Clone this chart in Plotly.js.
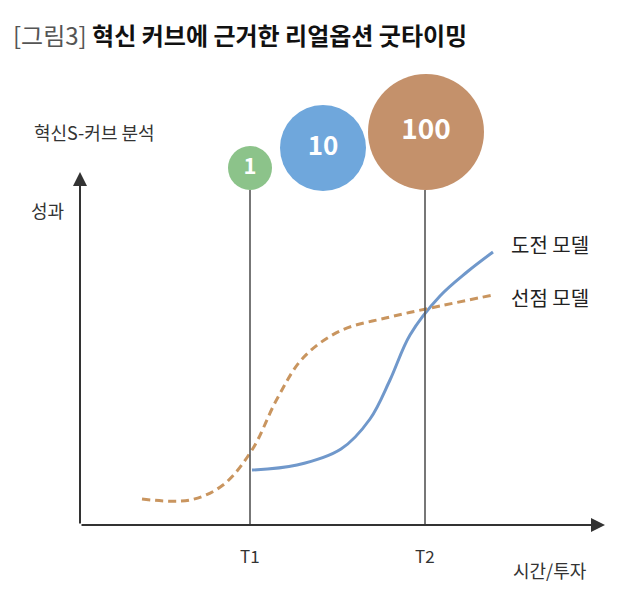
<!DOCTYPE html>
<html>
<head>
<meta charset="utf-8">
<script src="https://cdn.plot.ly/plotly-3.0.1.min.js"></script>
<style>html,body{margin:0;padding:0;background:#fff;}#chart{width:640px;height:592px;}</style>
</head>
<body>
<div id="chart"></div>
<script>
// Data (x = time/investment, y = performance; origin at axis corner)
const challengeX = [172, 217, 261, 290, 310, 330, 360, 387, 413];
const challengeY = [55, 60, 76, 106, 145, 190, 229, 253, 273];
const preemptX = [62, 110, 143, 172, 197, 223, 260, 310, 360, 413];
const preemptY = [26, 25, 40, 75, 126, 167, 194, 208, 219, 230];
const timingX = [170, 345];            // T1, T2
const timingLabels = ['T1', 'T2'];
const bubbleX = [170, 243, 346];
const bubbleY = [357, 377, 393];
const bubbleLabels = ['1', '10', '100'];
const seriesNames = ['도전 모델', '선점 모델'];

const font = '"Noto Sans CJK KR", "Noto Sans", sans-serif';
const lineTop = 335;

const traces = [
  {x: challengeX, y: challengeY, mode: 'lines', line: {color: '#7098cb', width: 3, shape: 'spline', smoothing: 1}, hoverinfo: 'skip'},
  {x: preemptX, y: preemptY, mode: 'lines', line: {color: '#c9955f', width: 3, shape: 'spline', smoothing: 1, dash: '8px,5px'}, hoverinfo: 'skip'},
  {x: bubbleX, y: bubbleY, mode: 'markers+text', text: bubbleLabels, textposition: 'middle center',
   textfont: {family: font, color: '#ffffff', size: [22, 26, 28], weight: 'bold'},
   marker: {size: [44, 86, 116], color: ['#8cc38a', '#6fa7dc', '#c4916b'], line: {width: 0}, opacity: 1},
   hoverinfo: 'skip', cliponaxis: false}
];

const shapes = timingX.map(x => ({type: 'line', xref: 'x', yref: 'y', x0: x, x1: x, y0: 0, y1: lineTop,
  line: {color: '#555555', width: 1.6}}));

const annotations = [
  // axes with arrows
  {x: 0, y: 353, ax: 0, ay: 0, axref: 'x', ayref: 'y', xref: 'x', yref: 'y', showarrow: true,
   arrowhead: 2, arrowsize: 1.4, arrowwidth: 2, arrowcolor: '#333333', text: ''},
  {x: 525, y: 0, ax: 0, ay: 0, axref: 'x', ayref: 'y', xref: 'x', yref: 'y', showarrow: true,
   arrowhead: 2, arrowsize: 1.4, arrowwidth: 2, arrowcolor: '#333333', text: ''},
  // title
  {xref: 'paper', yref: 'paper', x: 11/640, y: 1 - 34/592, xanchor: 'left', yanchor: 'middle', showarrow: false,
   text: '<span style="color:#555">[그림3]</span> <b>혁신 커브에 근거한 리얼옵션 굿타이밍</b>',
   font: {family: font, size: 24, color: '#111111'}},
  {xref: 'paper', yref: 'paper', x: 32/640, y: 1 - 132/592, xanchor: 'left', yanchor: 'middle', showarrow: false,
   text: '혁신S-커브 분석', font: {family: font, size: 18, color: '#333333'}},
  {xref: 'paper', yref: 'paper', x: 29/640, y: 1 - 210/592, xanchor: 'left', yanchor: 'middle', showarrow: false,
   text: '성과', font: {family: font, size: 18, color: '#333333'}},
  {xref: 'x', yref: 'y', x: 429, y: 525 - 244, xanchor: 'left', yanchor: 'middle', showarrow: false,
   text: seriesNames[0], font: {family: font, size: 20, color: '#222222'}},
  {xref: 'x', yref: 'y', x: 429, y: 525 - 297, xanchor: 'left', yanchor: 'middle', showarrow: false,
   text: seriesNames[1], font: {family: font, size: 20, color: '#222222'}},
  ...timingX.map((x, i) => ({xref: 'x', yref: 'y', x: x, y: -30, xanchor: 'center', yanchor: 'middle', showarrow: false,
   text: timingLabels[i], font: {family: font, size: 17, color: '#333333'}})),
  {xref: 'paper', yref: 'paper', x: 550/640, y: 1 - 570/592, xanchor: 'center', yanchor: 'middle', showarrow: false,
   text: '시간/투자', font: {family: font, size: 18, color: '#333333'}}
];

const layout = {
  width: 640, height: 592,
  margin: {l: 0, r: 0, t: 0, b: 0},
  paper_bgcolor: '#ffffff', plot_bgcolor: '#ffffff',
  showlegend: false,
  xaxis: {range: [-80, 560], visible: false, fixedrange: true},
  yaxis: {range: [-67, 525], visible: false, fixedrange: true},
  shapes: shapes,
  annotations: annotations
};

Plotly.newPlot('chart', traces, layout, {staticPlot: true, displayModeBar: false});
</script>
</body>
</html>
